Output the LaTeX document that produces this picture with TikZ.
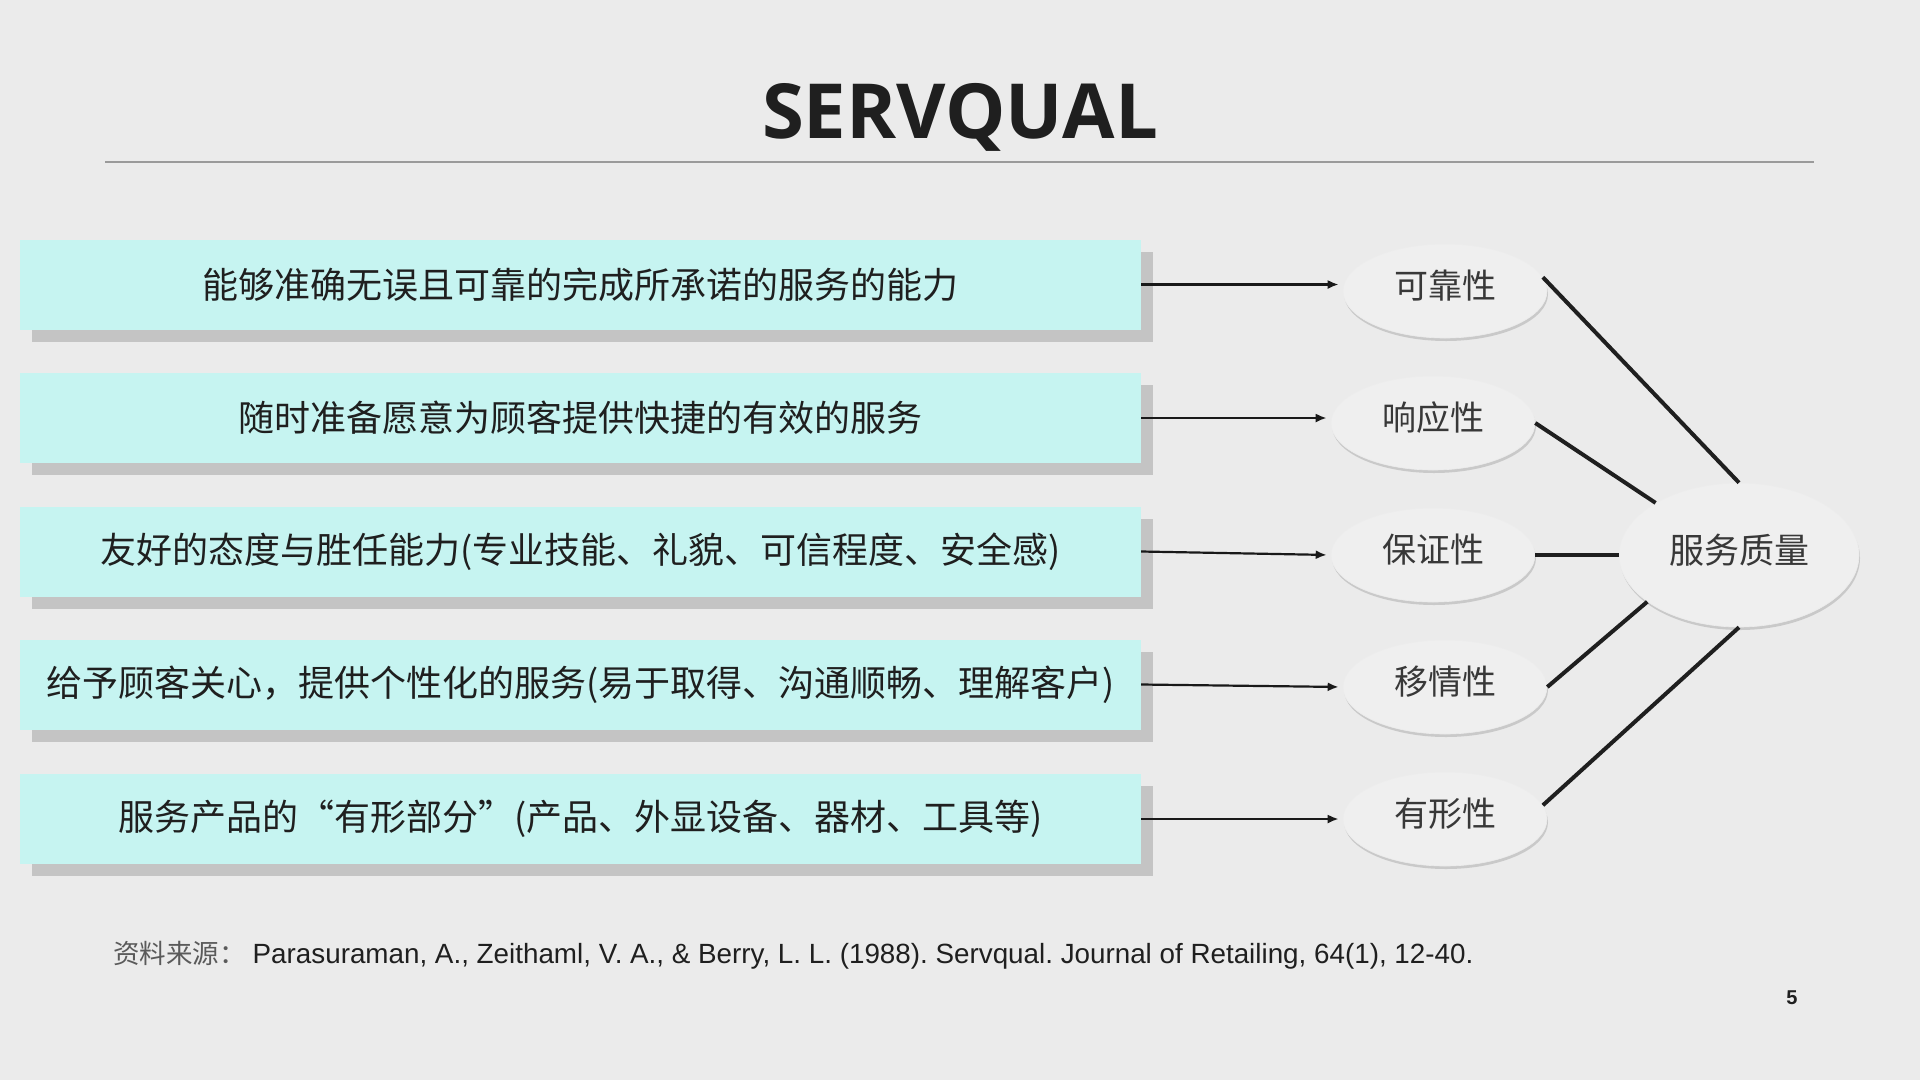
\documentclass[tikz,border=0pt]{standalone}
\usepackage{fontspec}
\setmainfont{Liberation Sans}
\newfontfamily\cjk{Noto Sans CJK SC}
\newfontfamily\titlefont{Open Sans}
\usetikzlibrary{shapes.geometric,arrows.meta,shadows}

\definecolor{pagebg}{HTML}{EBEBEB}
\definecolor{boxfill}{HTML}{C6F4F1}
\definecolor{boxshade}{HTML}{C4C4C4}
\definecolor{inktext}{HTML}{1F1F1F}
\definecolor{ovalfill}{HTML}{EFEFEF}
\definecolor{ovaltext}{HTML}{383838}
\definecolor{rulegray}{HTML}{9A9A9A}
\definecolor{notegray}{HTML}{5A5A5A}

\begin{document}
\begin{tikzpicture}[x=1pt,y=-1pt,
  factbox/.style={rectangle, fill=boxfill, minimum width=1121pt, minimum height=90pt,
    inner sep=0pt, text=inktext, font=\cjk\fontsize{36}{40}\selectfont,
    drop shadow={shadow xshift=12pt, shadow yshift=-12pt, fill=boxshade, opacity=1}},
  dimoval/.style={ellipse, fill=ovalfill, draw=white!85!gray, line width=0.6pt,
    minimum width=204pt, minimum height=94pt, inner sep=0pt, text=ovaltext,
    font=\cjk\fontsize{34}{36}\selectfont, text height=24pt, text depth=10pt,
    drop shadow={shadow xshift=1pt, shadow yshift=-3pt, fill=black, opacity=0.14}},
  bigoval/.style={dimoval, minimum width=240pt, minimum height=144pt,
    font=\cjk\fontsize{35}{38}\selectfont, text height=26pt, text depth=9.4pt},
  feed/.style={draw=black!90, line width=2.2pt, -{Latex[length=11pt,width=9pt]}, shorten >=4pt},
  link/.style={draw=black!88, line width=4pt}
]
% page
\fill[pagebg] (0,0) rectangle (1920,1080);
\useasboundingbox (0,0) rectangle (1920,1080);

% heading and rule
\node[anchor=base, text=inktext, inner sep=0pt, font=\titlefont\bfseries\fontsize{76}{80}\selectfont]
  (title) at (960,138) {SERVQUAL};
\draw[rulegray, line width=1.5pt] (105,162) -- (1814,162);

% descriptive boxes
\node[factbox] (b1) at (580.5,284.5) {能够准确无误且可靠的完成所承诺的服务的能力};
\node[factbox] (b2) at (580.5,418)   {随时准备愿意为顾客提供快捷的有效的服务};
\node[factbox] (b3) at (580.5,551.5) {友好的态度与胜任能力(专业技能、礼貌、可信程度、安全感)};
\node[factbox] (b4) at (580.5,684.5) {给予顾客关心，提供个性化的服务(易于取得、沟通顺畅、理解客户)};
\node[factbox] (b5) at (580.5,819)   {服务产品的“有形部分”(产品、外显设备、器材、工具等)};

% five dimensions
\node[dimoval] (e1) at (1445,291) {可靠性};
\node[dimoval] (e2) at (1433,423) {响应性};
\node[dimoval] (e3) at (1433,555) {保证性};
\node[dimoval] (e4) at (1445,687) {移情性};
\node[dimoval] (e5) at (1445,819) {有形性};

% overall quality
\node[bigoval] (q) at (1739,555) {服务质量};

% boxes to dimensions
\draw[feed] (b1.east) -- (b1.east -| e1.west);
\draw[feed] (b2.east) -- (b2.east -| e2.west);
\draw[feed] (b3.east) -- (e3.west);
\draw[feed] (b4.east) -- (e4.west);
\draw[feed] (b5.east) -- (e5.west);

% dimensions to quality
\draw[link] (e1.8)    -- (q.north);
\draw[link] (e2.east) -- (q.148);
\draw[link] (e3.east) -- (q.west);
\draw[link] (e4.east) -- (q.207);
\draw[link] (e5.8)    -- (q.south);

% source note and page number
\node[anchor=base west, inner sep=0pt] (src) at (113,963)
  {\frenchspacing{\cjk\fontsize{26.5}{30}\selectfont\color{notegray}资料来源：}\hspace{7pt}{\fontsize{27.8}{30}\selectfont\color{inktext}Parasuraman, A., Zeithaml, V. A., \& Berry, L. L. (1988). Servqual. Journal of Retailing, 64(1), 12-40.}};
\node[inner sep=0pt, text=inktext, font=\bfseries\fontsize{20}{22}\selectfont] (pg) at (1792,998) {5};
\end{tikzpicture}
\end{document}
